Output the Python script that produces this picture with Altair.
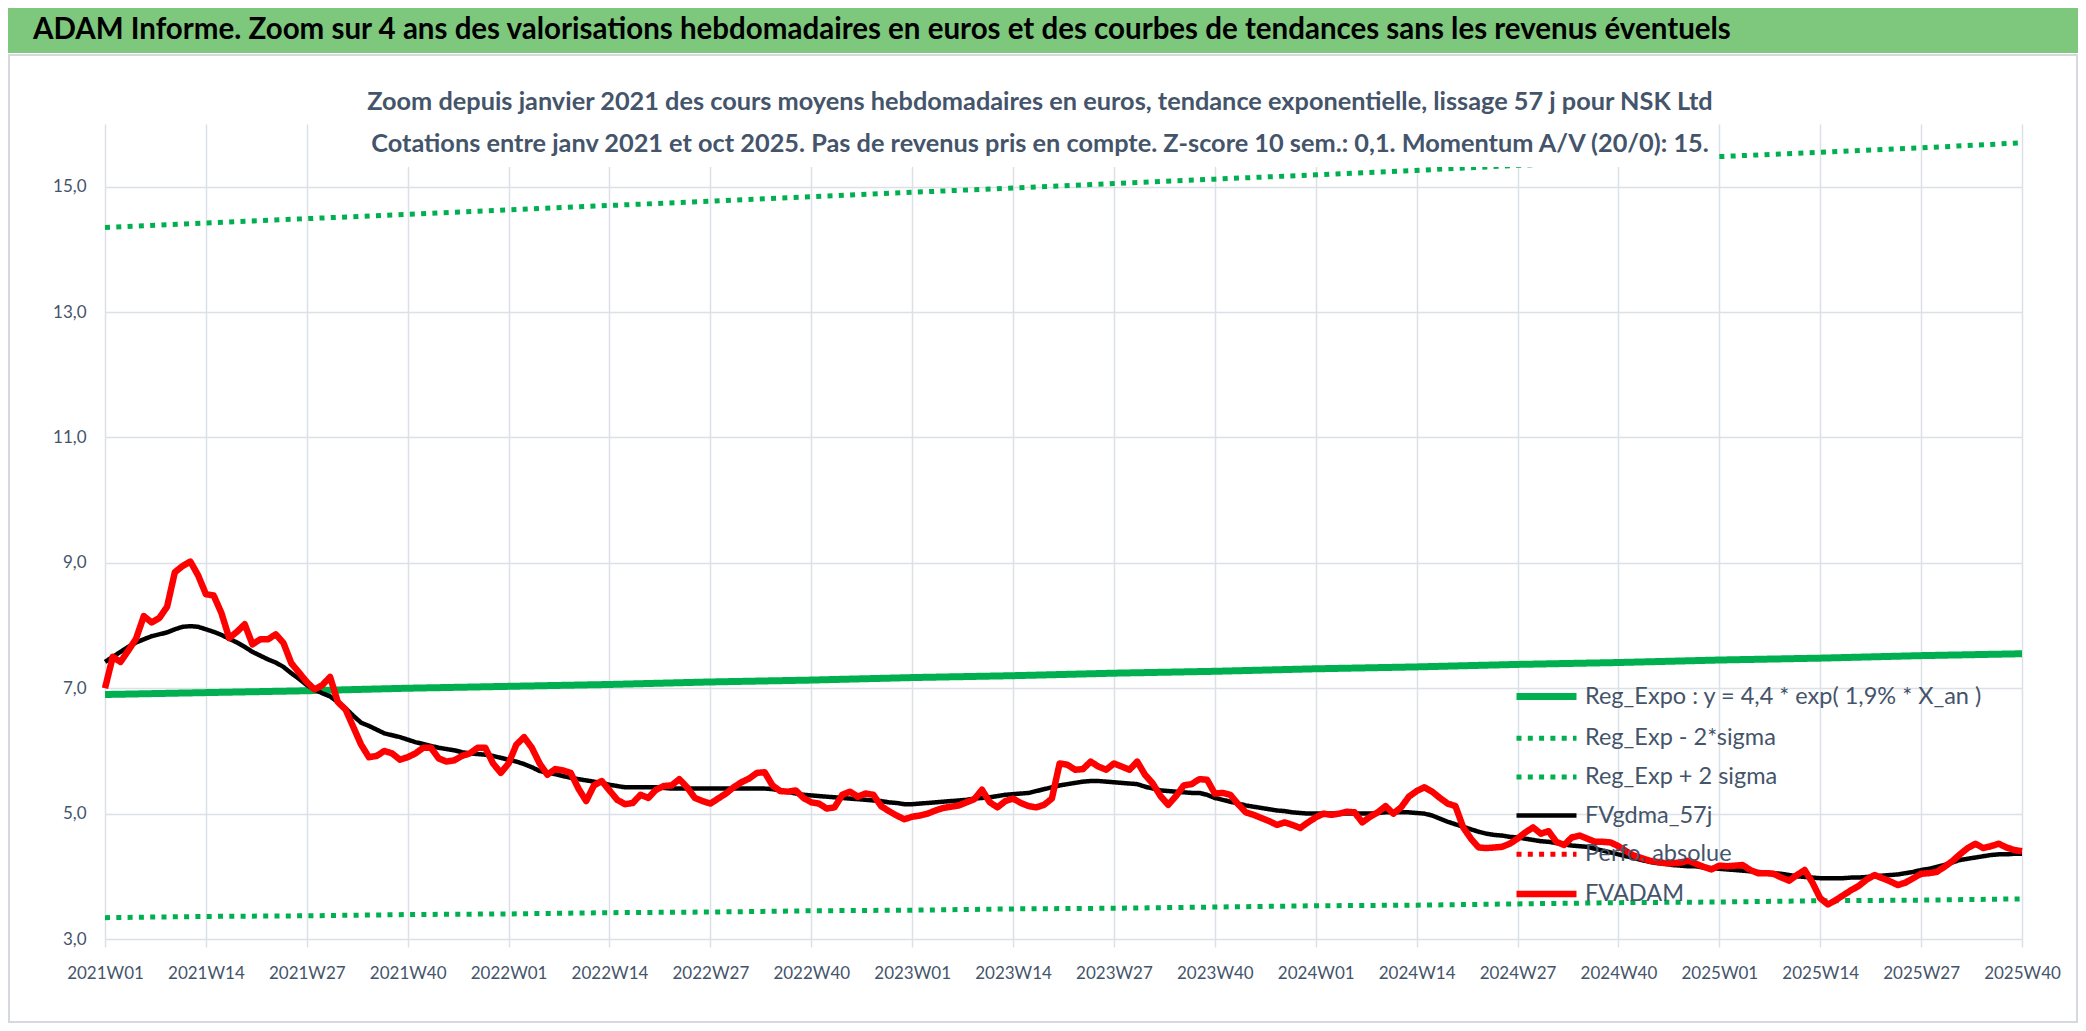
import json
import altair as alt
import pandas as pd

# ---------------- data ----------------
week_labels = ["2021W01", "2021W14", "2021W27", "2021W40", "2022W01", "2022W14", "2022W27",
               "2022W40", "2023W01", "2023W14", "2023W27", "2023W40", "2024W01", "2024W14",
               "2024W27", "2024W40", "2025W01", "2025W14", "2025W27", "2025W40"]
tick_weeks = [0, 13, 26, 39, 52, 65, 78, 91, 104, 117, 130, 143, 156, 169, 182, 195, 208, 221, 234, 247]
y_ticks = [3, 5, 7, 9, 11, 13, 15]

fvadam = [
    7.00, 7.50, 7.42, 7.60, 7.79, 8.15, 8.05, 8.12, 8.30, 8.85, 8.95, 9.02, 8.80,
    8.50, 8.48, 8.20, 7.80, 7.90, 8.02, 7.70, 7.78, 7.78, 7.86, 7.72, 7.40, 7.25,
    7.10, 6.98, 7.05, 7.18, 6.78, 6.66, 6.38, 6.10, 5.90, 5.92, 6.00, 5.96, 5.86,
    5.90, 5.96, 6.05, 6.05, 5.88, 5.83, 5.85, 5.92, 5.96, 6.05, 6.05, 5.80, 5.65,
    5.80, 6.10, 6.22, 6.05, 5.80, 5.62, 5.71, 5.69, 5.65, 5.40, 5.20, 5.45, 5.52,
    5.37, 5.22, 5.15, 5.17, 5.30, 5.25, 5.38, 5.44, 5.45, 5.55, 5.42, 5.25, 5.20,
    5.16, 5.24, 5.32, 5.42, 5.50, 5.56, 5.65, 5.66, 5.45, 5.36, 5.35, 5.37, 5.25,
    5.18, 5.16, 5.08, 5.10, 5.30, 5.35, 5.27, 5.32, 5.30, 5.12, 5.04, 4.97, 4.91,
    4.95, 4.97, 5.00, 5.05, 5.09, 5.11, 5.13, 5.18, 5.23, 5.38, 5.18, 5.10, 5.20,
    5.24, 5.17, 5.12, 5.10, 5.14, 5.24, 5.80, 5.78, 5.70, 5.71, 5.83, 5.75, 5.70,
    5.80, 5.75, 5.70, 5.83, 5.62, 5.48, 5.28, 5.14, 5.28, 5.45, 5.47, 5.55, 5.54,
    5.32, 5.33, 5.30, 5.15, 5.02, 4.98, 4.93, 4.88, 4.82, 4.86, 4.82, 4.77, 4.86,
    4.94, 5.00, 4.98, 5.00, 5.03, 5.02, 4.86, 4.95, 5.02, 5.12, 5.00, 5.10, 5.27,
    5.36, 5.42, 5.35, 5.25, 5.16, 5.12, 4.78, 4.60, 4.46, 4.45, 4.46, 4.47, 4.52,
    4.60, 4.70, 4.78, 4.68, 4.72, 4.55, 4.50, 4.62, 4.65, 4.60, 4.55, 4.55, 4.54,
    4.48, 4.40, 4.33, 4.29, 4.25, 4.23, 4.21, 4.21, 4.22, 4.25, 4.20, 4.15, 4.11,
    4.17, 4.16, 4.17, 4.18, 4.10, 4.05, 4.05, 4.04, 3.98, 3.93, 4.02, 4.10, 3.90,
    3.65, 3.55, 3.62, 3.70, 3.78, 3.85, 3.95, 4.02, 3.97, 3.92, 3.86, 3.90, 3.97,
    4.04, 4.05, 4.07, 4.15, 4.24, 4.35, 4.45, 4.52, 4.45, 4.48, 4.52, 4.46, 4.42,
    4.40,
]

fvgdma = [
    7.42, 7.50, 7.58, 7.66, 7.73, 7.78, 7.83, 7.86, 7.89, 7.94, 7.98, 7.99, 7.98,
    7.94, 7.90, 7.85, 7.79, 7.73, 7.66, 7.58, 7.52, 7.46, 7.41, 7.34, 7.24, 7.15,
    7.05, 6.98, 6.92, 6.87, 6.78, 6.68, 6.56, 6.45, 6.40, 6.34, 6.28, 6.25, 6.22,
    6.18, 6.14, 6.11, 6.08, 6.05, 6.03, 6.01, 5.98, 5.96, 5.95, 5.94, 5.92, 5.89,
    5.86, 5.83, 5.79, 5.74, 5.68, 5.65, 5.63, 5.60, 5.57, 5.55, 5.53, 5.51, 5.49,
    5.46, 5.44, 5.42, 5.42, 5.42, 5.42, 5.42, 5.41, 5.40, 5.40, 5.40, 5.40, 5.40,
    5.40, 5.40, 5.40, 5.40, 5.40, 5.40, 5.40, 5.40, 5.39, 5.37, 5.35, 5.32, 5.30,
    5.29, 5.28, 5.27, 5.26, 5.25, 5.24, 5.23, 5.22, 5.21, 5.20, 5.18, 5.17, 5.15,
    5.15, 5.16, 5.17, 5.18, 5.19, 5.20, 5.21, 5.22, 5.24, 5.25, 5.26, 5.28, 5.30,
    5.31, 5.32, 5.33, 5.36, 5.39, 5.42, 5.45, 5.47, 5.49, 5.51, 5.52, 5.52, 5.51,
    5.50, 5.49, 5.48, 5.47, 5.43, 5.40, 5.37, 5.36, 5.35, 5.34, 5.33, 5.33, 5.30,
    5.25, 5.22, 5.19, 5.16, 5.13, 5.11, 5.09, 5.07, 5.05, 5.04, 5.02, 5.01, 5.00,
    5.00, 5.00, 5.00, 5.00, 5.00, 5.00, 5.00, 5.00, 5.01, 5.02, 5.02, 5.02, 5.02,
    5.01, 5.00, 4.97, 4.92, 4.87, 4.83, 4.79, 4.75, 4.71, 4.68, 4.66, 4.65, 4.63,
    4.62, 4.60, 4.58, 4.56, 4.55, 4.53, 4.51, 4.49, 4.48, 4.47, 4.44, 4.41, 4.38,
    4.35, 4.32, 4.29, 4.26, 4.23, 4.21, 4.20, 4.18, 4.17, 4.16, 4.16, 4.14, 4.13,
    4.12, 4.11, 4.10, 4.09, 4.08, 4.07, 4.06, 4.05, 4.04, 4.02, 4.00, 3.99, 3.98,
    3.97, 3.97, 3.97, 3.97, 3.98, 3.98, 3.99, 4.00, 4.01, 4.02, 4.03, 4.05, 4.07,
    4.10, 4.12, 4.15, 4.18, 4.22, 4.26, 4.28, 4.30, 4.32, 4.34, 4.35, 4.35, 4.36,
    4.36,
]

# trend lines, read at every labelled week
reg_expo = [6.90, 6.93, 6.96, 7.00, 7.03, 7.06, 7.10, 7.13, 7.17, 7.20,
            7.24, 7.27, 7.31, 7.34, 7.38, 7.41, 7.45, 7.48, 7.52, 7.55]
reg_minus = [3.34, 3.36, 3.37, 3.39, 3.40, 3.42, 3.43, 3.45, 3.46, 3.48,
             3.49, 3.51, 3.53, 3.54, 3.56, 3.58, 3.59, 3.61, 3.62, 3.64]
reg_plus = [14.35, 14.42, 14.49, 14.56, 14.63, 14.70, 14.77, 14.84, 14.91, 14.98,
            15.05, 15.12, 15.19, 15.26, 15.34, 15.41, 15.48, 15.55, 15.62, 15.70]

series_names = ["Reg_Expo : y = 4,4 * exp( 1,9% *  X_an )", "Reg_Exp - 2*sigma",
                "Reg_Exp + 2 sigma", "FVgdma_57j", "Perfo. absolue", "FVADAM"]

title_text = ("ADAM Informe. Zoom sur 4 ans des valorisations hebdomadaires en euros "
              "et des courbes de tendances sans les revenus éventuels")
subtitle_lines = [
    "Zoom depuis janvier 2021 des cours moyens hebdomadaires en euros, tendance exponentielle, lissage 57 j pour NSK Ltd",
    "Cotations entre janv 2021 et oct 2025. Pas de revenus pris en compte. Z-score 10 sem.: 0,1. Momentum A/V (20/0): 15.",
]

# ---------------- build table ----------------
rows = []
for name, weeks, vals in [
    (series_names[0], tick_weeks, reg_expo),
    (series_names[1], tick_weeks, reg_minus),
    (series_names[2], tick_weeks, reg_plus),
    (series_names[3], list(range(len(fvgdma))), fvgdma),
    (series_names[5], list(range(len(fvadam))), fvadam),
]:
    for w, v in zip(weeks, vals):
        rows.append({"serie": name, "week": w, "value": v})
df = pd.DataFrame(rows)

# ---------------- styles ----------------
FONT = "Lato, Open Sans, sans-serif"
TXT = "#44546A"
GRID = "#DCE0E7"
W, H = 1917, 815
PAD_L, PAD_T = 97, 116

colors = ["#00B050", "#00B050", "#00B050", "#000000", "#FF0000", "#FF0000"]
dashes = [[1, 0], [5, 6.3], [5, 6.3], [1, 0], [5, 6.3], [1, 0]]
widths = [7, 5, 5, 4.5, 5, 6.5]

legend = alt.Legend(
    title=None, orient="none", legendX=1418, legendY=549, padding=0,
    symbolType="M-1.5,0L1.5,0", symbolSize=1600, labelOffset=15, rowPadding=4.7,
    labelFont=FONT, labelFontSize=23.5, labelColor=TXT, labelLimit=800,
)

x_enc = alt.X("week:Q", title=None,
              scale=alt.Scale(domain=[0, 247], nice=False, zero=False),
              axis=alt.Axis(values=tick_weeks,
                            labelExpr=json.dumps(week_labels) + "[round(datum.value / 13)]",
                            grid=True, gridColor=GRID, gridWidth=1.5, domain=False,
                            ticks=True, tickColor=GRID, tickWidth=1.5, tickSize=8,
                            labelPadding=18, labelFont=FONT, labelFontSize=17,
                            labelColor=TXT, labelOverlap=False, labelFlush=False))
y_enc = alt.Y("value:Q", title=None,
              scale=alt.Scale(domain=[3, 16], nice=False, zero=False),
              axis=alt.Axis(values=y_ticks,
                            labelExpr="replace(format(datum.value, '.1f'), '.', ',')",
                            grid=True, gridColor=GRID, gridWidth=1.5, domain=False,
                            ticks=False, tickSize=0, labelPadding=19, labelFont=FONT,
                            labelFontSize=17, labelColor=TXT, labelFlush=False))
color_enc = alt.Color("serie:N", scale=alt.Scale(domain=series_names, range=colors), legend=legend)
dash_enc = alt.StrokeDash("serie:N", scale=alt.Scale(domain=series_names, range=dashes), legend=legend)
width_enc = alt.StrokeWidth("serie:N", scale=alt.Scale(type="ordinal", domain=series_names, range=widths),
                            legend=legend)

base = alt.Chart(df).mark_line(strokeJoin="round").encode(
    x=x_enc, y=y_enc, color=color_enc, strokeDash=dash_enc, strokeWidth=width_enc,
    detail="serie:N",
)

layers = [base.transform_filter(alt.datum.serie == n) for n in
          [series_names[0], series_names[1], series_names[2], series_names[3], series_names[5]]]

# decorations: green banner, frame, white box behind subtitle
banner_df = pd.DataFrame({"t": [title_text]})
banner = alt.Chart(banner_df).mark_rect(color="#7DC87D").encode(
    x=alt.value(-PAD_L), x2=alt.value(W + 56), y=alt.value(-PAD_T), y2=alt.value(-71))
frame = alt.Chart(banner_df).mark_rect(fill="transparent", stroke="#D5D8DD", strokeWidth=2).encode(
    x=alt.value(-PAD_L + 1), x2=alt.value(W + 55), y=alt.value(-69), y2=alt.value(H + 83))
banner_text = alt.Chart(banner_df).mark_text(
    align="left", baseline="alphabetic", font=FONT, fontSize=29.5, fontWeight="bold", color="#000000"
).encode(x=alt.value(-72), y=alt.value(-85), text="t:N")

sub_df = pd.DataFrame({"t": subtitle_lines, "k": [0, 1]})
sub_box = alt.Chart(sub_df.iloc[:1]).mark_rect(color="white").encode(
    x=alt.value(262), x2=alt.value(1610), y=alt.value(-60), y2=alt.value(43))
sub1 = alt.Chart(sub_df.iloc[:1]).mark_text(
    align="center", baseline="alphabetic", font=FONT, fontSize=25.3, fontWeight="bold", color=TXT
).encode(x=alt.value(935), y=alt.value(-14), text="t:N")
sub2 = alt.Chart(sub_df.iloc[1:]).mark_text(
    align="center", baseline="alphabetic", font=FONT, fontSize=25.3, fontWeight="bold", color=TXT
).encode(x=alt.value(935), y=alt.value(28), text="t:N")

chart = alt.layer(frame, banner, banner_text, *layers, sub_box, sub1, sub2).properties(
    width=W, height=H,
    autosize=alt.AutoSizeParams(type="none"),
    padding={"left": PAD_L, "top": PAD_T, "right": 56, "bottom": 84},
    background="white",
).configure_view(stroke="transparent")

chart.save("out.html", embed_options={"renderer": "svg", "actions": False})
